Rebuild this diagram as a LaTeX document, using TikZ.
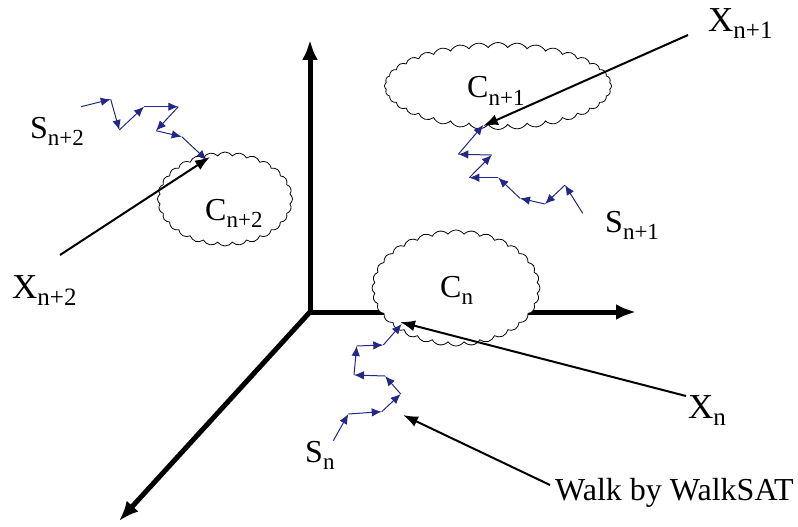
\documentclass[tikz,border=0pt]{standalone}
\usepackage{fontspec}
\setmainfont{Liberation Serif}
\usetikzlibrary{shapes.symbols,arrows.meta}
\definecolor{walkblue}{RGB}{35,40,135}
\newcommand\sublab[4]{{\fontsize{#3}{#3}\selectfont #1}\raisebox{-7pt}{\fontsize{#4}{#4}\selectfont #2}}
\begin{document}
\begin{tikzpicture}[x=1pt,y=-1pt,
  axis/.style={line width=5pt,-{Latex[length=20pt,width=16pt]}},
  pointer/.style={line width=2pt,-{Latex[length=15pt,width=11pt]}},
  walkseg/.style={walkblue,line width=1pt,-{Latex[length=10pt,width=8.5pt]}},
  puff/.style={cloud,draw,line width=0.8pt,cloud ignores aspect,inner sep=0pt,cloud puff arc=110},
  lab/.style={anchor=base west,inner sep=0pt}]
\useasboundingbox (0,0) rectangle (798,527);
% axes
\coordinate (O) at (310,312);
\coordinate (ytip) at (310,40);
\coordinate (xtip) at (636,312);
\coordinate (ztip) at (119,521);
\draw[axis] (O) -- (ytip);
\draw[axis] (O) -- (xtip);
\draw[axis] (O) -- (ztip);
% clouds
\node[puff,cloud puffs=36,minimum width=227pt,minimum height=87pt] (cl1) at (498,86) {};
\node[puff,cloud puffs=28,minimum width=135pt,minimum height=94pt] (cl2) at (225,199) {};
\node[puff,cloud puffs=32,minimum width=168pt,minimum height=116pt,fill=white] (cl0) at (456,288) {};
% labels
\node[lab] (Cn1) at (467,98) {\sublab{C}{n+1}{32}{23}};
\node[lab] (Cn2) at (205,220) {\sublab{C}{n+2}{32}{23}};
\node[lab] (Cn) at (440,297) {\sublab{C}{n}{32}{23}};
\node[lab] (Xn1) at (708,32) {\sublab{X}{n+1}{35}{25}};
\node[lab] (Xn2) at (12,298) {\sublab{X}{n+2}{35}{25}};
\node[lab] (Xn) at (688,418) {\sublab{X}{n}{35}{25}};
\node[lab] (Sn2) at (30,138) {\sublab{S}{n+2}{32}{23}};
\node[lab] (Sn1) at (605,232) {\sublab{S}{n+1}{32}{23}};
\node[lab] (Sn) at (305,462) {\sublab{S}{n}{32}{23}};
\node[lab] (walk) at (555,500) {\fontsize{32}{32}\selectfont Walk by WalkSAT};
% pointer arrows
\coordinate (t1) at (688,35);  \coordinate (h1) at (483,126);
\coordinate (t2) at (60,255);  \coordinate (h2) at (210,157);
\coordinate (t0) at (686,396); \coordinate (h0) at (400,322);
\coordinate (tw) at (550,485); \coordinate (hw) at (403,415);
\draw[pointer] (t1) -- (h1);
\draw[pointer] (t2) -- (h2);
\draw[pointer] (t0) -- (h0);
\draw[pointer] (tw) -- (hw);
% walks
\draw[walkseg] (81,106.7) -- (110.7,99.3);
\draw[walkseg] (110.7,99.3) -- (119.3,130);
\draw[walkseg] (119.3,130) -- (144,106.7);
\draw[walkseg] (144,106.7) -- (178.3,106.7);
\draw[walkseg] (178.3,106.7) -- (156,130.7);
\draw[walkseg] (156,130.7) -- (181.7,136.7);
\draw[walkseg] (181.7,136.7) -- (206.7,160);
%
\draw[walkseg] (582.7,213.3) -- (565,185);
\draw[walkseg] (565,185) -- (545,204);
\draw[walkseg] (545,204) -- (520,198.3);
\draw[walkseg] (520,198.3) -- (498.3,177.7);
\draw[walkseg] (498.3,177.7) -- (469.3,177.7);
\draw[walkseg] (469.3,177.7) -- (491.7,155);
\draw[walkseg] (491.7,155) -- (458.3,154.3);
\draw[walkseg] (458.3,154.3) -- (483.3,125);
%
\draw[walkseg] (333.3,440.7) -- (348.3,414);
\draw[walkseg] (348.3,414) -- (381.7,411.7);
\draw[walkseg] (381.7,411.7) -- (400.7,394);
\draw[walkseg] (400.7,394) -- (385,376);
\draw[walkseg] (385,376) -- (354,375);
\draw[walkseg] (354,375) -- (356.7,346);
\draw[walkseg] (356.7,346) -- (383.3,345);
\draw[walkseg] (383.3,345) -- (401.7,324);
\end{tikzpicture}
\end{document}
